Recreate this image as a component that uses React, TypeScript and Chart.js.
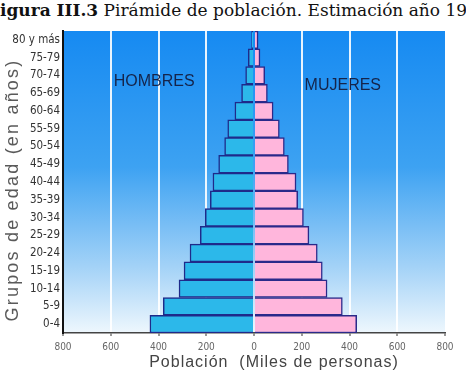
import React, { useEffect, useRef } from "react";
import { Chart, registerables } from "chart.js";

Chart.register(...registerables);

// ---- data ----
const ageGroups = [
  "0-4", "5-9", "10-14", "15-19", "20-24", "25-29", "30-34", "35-39",
  "40-44", "45-49", "50-54", "55-59", "60-64", "65-69", "70-74", "75-79", "80 y más",
];
const hombres = [436, 380, 314, 293, 268, 225, 204, 183, 172, 148, 123, 110, 80, 52, 35, 24, 10];
const mujeres = [430, 370, 306, 286, 265, 230, 207, 183, 176, 144, 127, 106, 80, 56, 45, 25, 17];
const xTickValues = [-800, -600, -400, -200, 0, 200, 400, 600, 800];

const titleBold = "igura III.3";
const titleRest = " Pirámide de población. Estimación año 19";
const xTitle = "Población  (Miles de personas)";
const yTitle = "Grupos de edad (en años)";
const maleLabel = "HOMBRES";
const femaleLabel = "MUJERES";

const NARROW = '"DejaVu Sans Condensed", "DejaVu Sans", sans-serif';
const SANS = '"Liberation Sans", Arial, sans-serif';

const bgPlugin = {
  id: "bgGradient",
  beforeDraw(chart: any) {
    const { ctx, chartArea } = chart;
    const { left, top, right, bottom } = chartArea;
    const g = ctx.createLinearGradient(0, top, 0, bottom);
    g.addColorStop(0, "#168af2");
    g.addColorStop(0.45, "#3da2f2");
    g.addColorStop(0.78, "#a3d2f7");
    g.addColorStop(1, "#eef7fd");
    ctx.save();
    ctx.fillStyle = g;
    ctx.fillRect(left, top, right - left, bottom - top);
    ctx.restore();
  },
};

const labelsPlugin = {
  id: "textLabels",
  afterDraw(chart: any) {
    const { ctx, chartArea, scales } = chart;
    const xs = scales.x;
    const ys = scales.y;
    ctx.save();
    // HOMBRES / MUJERES
    ctx.fillStyle = "#15244a";
    ctx.font = `16px ${SANS}`;
    ctx.textAlign = "center";
    ctx.textBaseline = "middle";
    ctx.fillText(maleLabel, xs.getPixelForValue(-418), ys.getPixelForValue(13.65));
    ctx.fillText(femaleLabel, xs.getPixelForValue(372), ys.getPixelForValue(13.4));

    // x title
    ctx.fillStyle = "#444";
    ctx.font = `16px ${SANS}`;
    (ctx as any).letterSpacing = "1px";
    ctx.fillText(xTitle, (chartArea.left + chartArea.right) / 2 + 20, chartArea.bottom + 30);

    // y title
    ctx.fillStyle = "#5a5a5a";
    ctx.font = `18px ${SANS}`;
    (ctx as any).letterSpacing = "2.2px";
    ctx.translate(13, (chartArea.top + chartArea.bottom) / 2 + 8);
    ctx.rotate(-Math.PI / 2);
    ctx.fillText(yTitle, 0, 0);
    ctx.restore();
  },
};

export default function App() {
  const canvasRef = useRef<HTMLCanvasElement | null>(null);

  useEffect(() => {
    const canvas = canvasRef.current;
    if (!canvas) return;
    const chart = new Chart(canvas, {
      type: "bar",
      data: {
        labels: ageGroups,
        datasets: [
          {
            label: "Hombres",
            data: hombres.map((v) => -v),
            backgroundColor: "#2cb8ea",
            borderColor: "#1f2a8a",
            borderWidth: 1.5,
            barPercentage: 1,
            categoryPercentage: 1,
          },
          {
            label: "Mujeres",
            data: mujeres,
            backgroundColor: "#ffb6dc",
            borderColor: "#2a2a8a",
            borderWidth: 1.5,
            barPercentage: 1,
            categoryPercentage: 1,
          },
        ],
      },
      options: {
        indexAxis: "y",
        responsive: false,
        animation: false,
        layout: { padding: { top: 31, right: 21, left: 0, bottom: 0 } },
        plugins: {
          legend: { display: false },
          tooltip: { enabled: false },
          title: { display: false },
        },
        scales: {
          x: {
            type: "linear",
            stacked: true,
            min: -800,
            max: 800,
            afterBuildTicks: (s: any) => {
              s.ticks = xTickValues.map((v) => ({ value: v }));
            },
            afterFit: (s: any) => {
              s.height = 42;
            },
            ticks: {
              callback: (v: any) => String(Math.abs(Number(v))),
              color: "#666",
              font: { family: NARROW, size: 10 },
              padding: 5,
              maxRotation: 0,
            },
            grid: {
              color: (c: any) => {
                const v = c.tick ? c.tick.value : 0;
                return Math.abs(v) === 800 || v === 0 ? "rgba(0,0,0,0)" : "rgba(255,255,255,0.9)";
              },
              lineWidth: 2,
              drawTicks: true,
              tickLength: 3,
              tickColor: "#999",
            },
            border: { display: true, color: "#444", width: 1.5 },
          },
          y: {
            type: "category",
            stacked: true,
            reverse: true,
            afterFit: (s: any) => {
              s.width = 63;
            },
            ticks: {
              color: "#333",
              font: { family: NARROW, size: 11.5, style: "condensed" },
              padding: 3,
              autoSkip: false,
            },
            grid: { display: false, drawTicks: false },
            border: { display: true, color: "#111", width: 2 },
          },
        },
      },
      plugins: [bgPlugin, labelsPlugin],
    } as any);
    return () => chart.destroy();
  }, []);

  return (
    <div style={{ position: "fixed", left: 0, top: 0, width: 466, height: 375, background: "#fff", overflow: "hidden" }}>
      <div
        style={{
          position: "absolute",
          left: 0,
          top: 0,
          whiteSpace: "nowrap",
          fontFamily: '"DejaVu Serif", "Liberation Serif", serif',
          fontSize: 17,
          lineHeight: "20px",
          color: "#111",
        }}
      >
        <b>{titleBold}</b>
        {titleRest}
      </div>
      <canvas ref={canvasRef} width={466} height={375} style={{ position: "absolute", left: 0, top: 0 }} />
    </div>
  );
}
